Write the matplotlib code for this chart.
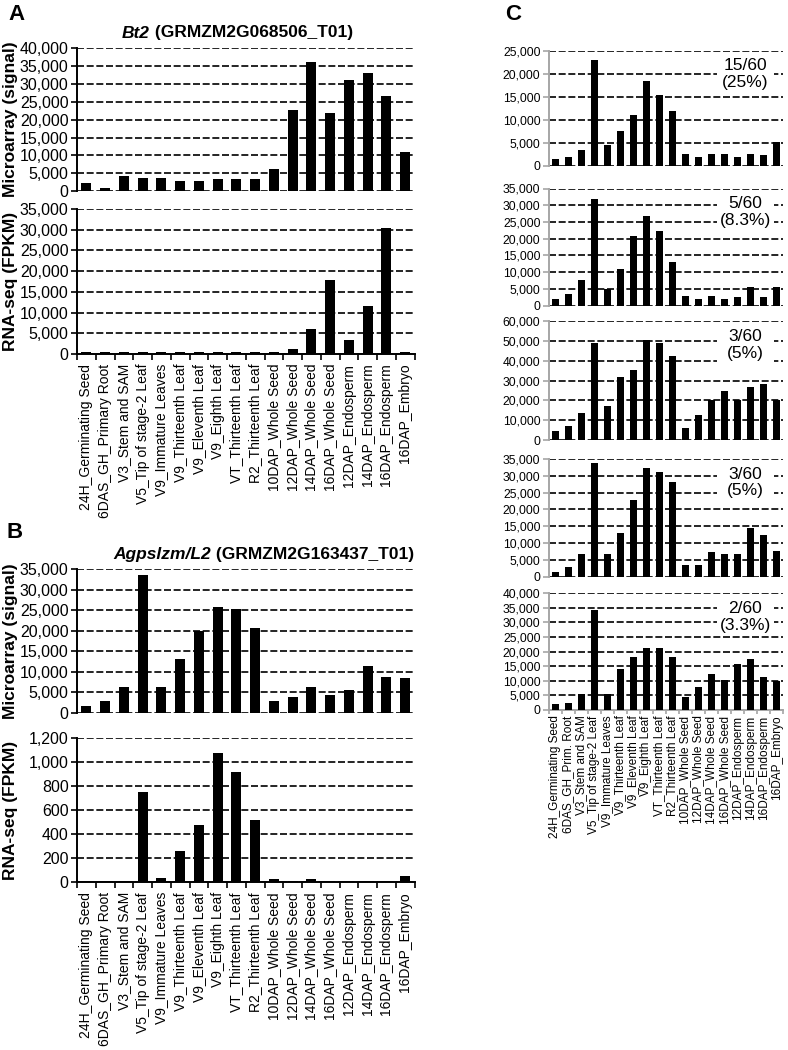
import numpy as np
import matplotlib.pyplot as plt
from matplotlib.ticker import FuncFormatter, MultipleLocator
from matplotlib.patches import Rectangle

plt.rcParams['font.family'] = ['Liberation Sans', 'DejaVu Sans']

W, H = 788, 1050

tissues = ['24H_Germinating Seed', '6DAS_GH_Primary Root', 'V3_Stem and SAM',
           'V5_Tip of stage-2 Leaf', 'V9_Immature Leaves', 'V9_Thirteenth Leaf',
           'V9_Eleventh Leaf', 'V9_Eighth Leaf', 'VT_Thirteenth Leaf',
           'R2_Thirteenth Leaf', '10DAP_Whole Seed', '12DAP_Whole Seed',
           '14DAP_Whole Seed', '16DAP_Whole Seed', '12DAP_Endosperm',
           '14DAP_Endosperm', '16DAP_Endosperm', '16DAP_Embryo']
tissues_c = list(tissues)
tissues_c[1] = '6DAS_GH_Prim. Root'

# panel A - Bt2
bt2_array = [2400, 800, 4200, 3800, 3800, 2800, 2800, 3300, 3300, 3300,
             6100, 22800, 36000, 21800, 31000, 33000, 26700, 11000]
bt2_rnaseq = [450, 450, 450, 450, 450, 450, 450, 450, 450, 450,
              500, 1100, 6000, 17800, 3400, 11500, 30300, 500]

# panel B - Agpslzm/L2
agp_array = [1700, 3000, 6300, 33500, 6300, 13100, 20000, 25800, 25200, 20700,
             3000, 3800, 6300, 4300, 5500, 11400, 8800, 8400]
agp_rnaseq = [15, 12, 12, 750, 40, 260, 480, 1080, 920, 520,
              25, 12, 25, 12, 12, 12, 12, 55]

# panel C - five co-expressed profiles
c1 = [1400, 1800, 3400, 23000, 4500, 7500, 11000, 18500, 15300, 12000,
      2500, 1900, 2500, 2500, 1900, 2500, 2300, 5200]
c2 = [1900, 3500, 7700, 31800, 4900, 10900, 20800, 26900, 22300, 13000,
      3000, 1900, 3000, 1900, 2500, 5500, 2500, 5500]
c3 = [4500, 7200, 13400, 48800, 17100, 31900, 35300, 50400, 48800, 42500,
      6200, 12600, 20200, 24900, 20200, 26600, 28200, 20200]
c4 = [1500, 3000, 6700, 33900, 6700, 12900, 22800, 32200, 31200, 28100,
      3500, 3500, 7300, 6700, 6700, 14400, 12400, 7700]
c5 = [1900, 2500, 5500, 34200, 5500, 13900, 18100, 21100, 21100, 18100,
      4300, 8000, 12200, 10300, 15800, 17500, 11400, 10000]
c_series = [c1, c2, c3, c4, c5]
c_ymax = [25000, 35000, 60000, 35000, 40000]
c_step = [5000, 5000, 10000, 5000, 5000]
c_notes = ['15/60\n(25%)', '5/60\n(8.3%)', '3/60\n(5%)', '3/60\n(5%)', '2/60\n(3.3%)']


def box(l, r, t, b):
    return [l / W, 1 - b / H, (r - l) / W, (b - t) / H]


def bar_panel(ax, vals, ymax, step, fs, col, labels=None, lfs=10):
    n = len(vals)
    x = np.arange(n)
    ax.bar(x, vals, width=0.53, color='black', zorder=3)
    ax.set_xlim(-0.5, n - 0.5)
    ax.set_ylim(0, ymax)
    ax.yaxis.set_major_locator(MultipleLocator(step))
    ax.yaxis.set_major_formatter(FuncFormatter(lambda v, p: f'{v:,.0f}'))
    ax.grid(axis='y', color='black', linestyle=(0, (4.2, 1.6)), linewidth=1.2)
    ax.set_axisbelow(True)
    for s in ['top', 'right']:
        ax.spines[s].set_visible(False)
    ax.spines['left'].set_color(col)
    ax.spines['left'].set_linewidth(1.4)
    ax.tick_params(axis='y', direction='out', length=4, width=1.2, color=col,
                   labelsize=fs, pad=2)
    if labels is None:
        ax.spines['bottom'].set_visible(False)
        ax.set_xticks([])
    else:
        ax.spines['bottom'].set_color(col)
        ax.spines['bottom'].set_linewidth(1.4)
        ax.set_xticks(x)
        ax.set_xticklabels(labels, rotation=90, fontsize=lfs, va='top', ha='center')
        ax.set_xticks(np.arange(n + 1) - 0.5, minor=True)
        ax.tick_params(axis='x', which='major', length=0, pad=7)
        ax.tick_params(axis='x', which='minor', length=4, width=1.2, color=col)


fig = plt.figure(figsize=(W / 100, H / 100), dpi=100)

# ---- panel A
axA1 = fig.add_axes(box(77, 414.5, 48, 191.2))
bar_panel(axA1, bt2_array, 40000, 5000, 11.5, 'black')
axA2 = fig.add_axes(box(77, 414.5, 209, 354))
bar_panel(axA2, bt2_rnaseq, 35000, 5000, 11.5, 'black', tissues, 10)

# ---- panel B
axB1 = fig.add_axes(box(77, 414.5, 569, 713))
bar_panel(axB1, agp_array, 35000, 5000, 11.5, 'black')
axB2 = fig.add_axes(box(77, 414.5, 738.3, 882.3))
bar_panel(axB2, agp_rnaseq, 1200, 200, 11.5, 'black', tissues, 10)

for ax, lab in [(axA1, 'Microarray (signal)'), (axA2, 'RNA-seq (FPKM)'),
                (axB1, 'Microarray (signal)'), (axB2, 'RNA-seq (FPKM)')]:
    pos = ax.get_position()
    fig.text(11 / W, pos.y0 + pos.height / 2, lab, rotation=90, ha='center',
             va='center', fontsize=12.5, fontweight='bold')

# titles: italic gene name followed by the transcript id
renderer = fig.canvas.get_renderer()
for xl, yt, gene, rest in [(122, 33, 'Bt2', ' (GRMZM2G068506_T01)'),
                           (113, 555, 'Agpslzm/L2', ' (GRMZM2G163437_T01)')]:
    t1 = fig.text(xl / W, 1 - yt / H, gene, fontsize=12.5, fontweight='bold',
                  fontstyle='italic', va='center', ha='left')
    bb = t1.get_window_extent(renderer)
    fig.text(bb.x1 / W, 1 - yt / H, rest, fontsize=12.5, fontweight='bold',
             va='center', ha='left')

fig.text(8 / W, 1 - 15 / H, 'A', fontsize=16, fontweight='bold', va='center')
fig.text(7 / W, 1 - 533 / H, 'B', fontsize=16, fontweight='bold', va='center')
fig.text(505 / W, 1 - 15 / H, 'C', fontsize=16, fontweight='bold', va='center')

# ---- panel C
c_rows = [(50.7, 165.7), (188.5, 305.7), (321, 440), (459, 576.7), (593.3, 710)]
for i, (t, b) in enumerate(c_rows):
    ax = fig.add_axes(box(548.8, 783.2, t, b))
    last = i == len(c_rows) - 1
    bar_panel(ax, c_series[i], c_ymax[i], c_step[i], 8.7, '#a6a6a6',
              tissues_c if last else None, 8.5)
    if last:
        ax.tick_params(axis='x', which='minor', length=3)
        ax.tick_params(axis='x', which='major', pad=4)
    ax.add_patch(Rectangle((0.718, 0.64), 0.243, 0.33, transform=ax.transAxes,
                           facecolor='white', edgecolor='none', zorder=2))
    ax.text(0.838, 0.8, c_notes[i], transform=ax.transAxes, ha='center',
            va='center', fontsize=12.5, zorder=4, linespacing=1.15)

fig.savefig('out.png', dpi=100)
